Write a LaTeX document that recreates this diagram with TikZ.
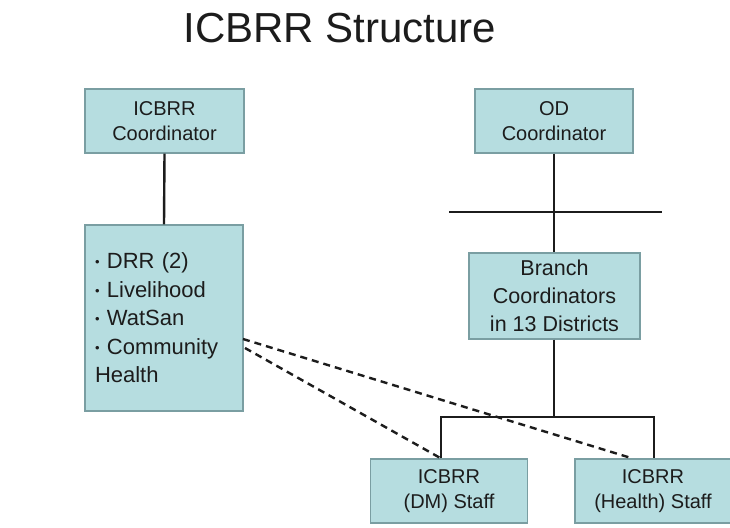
\documentclass[tikz,border=0pt]{standalone}
\usepackage{fontspec}
\setmainfont{Liberation Sans}
\usetikzlibrary{calc}
\definecolor{boxfill}{RGB}{182,221,224}
\definecolor{boxedge}{RGB}{122,158,162}
\definecolor{ink}{RGB}{28,28,28}
% small list bullet
\newcommand{\itemdot}{{\fontsize{13}{13}\selectfont\raisebox{2pt}{\textbullet}}\ }
\begin{document}
\begin{tikzpicture}[x=1pt,y=-1pt,
  orgbox/.style={draw=boxedge, line width=1.2pt, fill=boxfill, text=ink,
    align=center, inner sep=0pt, font=\fontsize{20}{25}\selectfont},
  link/.style={draw=ink, line width=2.4pt},
  dotlink/.style={draw=ink, line width=2.4pt, dash pattern=on 7pt off 5pt}]
\useasboundingbox (0,0) rectangle (730,527);
\fill[white] (0,0) rectangle (730,527);

% heading
\node[text=ink, font=\fontsize{42}{48}\selectfont, anchor=base] (title) at (340,42) {ICBRR Structure};

% boxes
\node[orgbox, minimum width=159, minimum height=64] (icc) at (164.5,121) {ICBRR\\Coordinator};
\node[orgbox, minimum width=158, minimum height=186, text width=138, align=left,
      font=\fontsize{22}{28.5}\selectfont] (list) at (164,318)
  {\itemdot DRR (2)\\\itemdot Livelihood\\\itemdot WatSan\\\itemdot Community\\Health};
\node[orgbox, minimum width=158, minimum height=64] (od) at (554,121) {OD\\Coordinator};
\node[orgbox, minimum width=171, minimum height=86,
      font=\fontsize{21.5}{28}\selectfont] (branch) at (554.5,296) {Branch\\Coordinators\\in 13 Districts};
\node[orgbox, minimum width=157, minimum height=64] (dm) at (449,491) {ICBRR\\(DM) Staff};
\node[orgbox, minimum width=156, minimum height=64] (hs) at (653,491) {ICBRR\\(Health) Staff};

% junction points
\coordinate (barL) at (449,212);
\coordinate (barR) at (662,212);
\coordinate (j) at (554,417);
\coordinate (bl) at (441,417);
\coordinate (br) at (654,417);
\coordinate (d1) at (243,339);
\coordinate (d2) at (245,348);

% solid connectors
\draw[link] (icc.south) -- (list.north);
\draw[link] (od.south) -- (od.south |- branch.north);
\draw[link] (barL) -- (barR);
\draw[link] (branch.south -| j) -- (j);
\draw[link] (dm.north -| bl) -- (bl) -- (br) -- (hs.north -| br);

% dashed connectors
\draw[dotlink] (d1) -- ($(hs.north west)+(58,0)$);
\draw[dotlink] (d2) -- (dm.north -| bl);
\end{tikzpicture}
\end{document}
